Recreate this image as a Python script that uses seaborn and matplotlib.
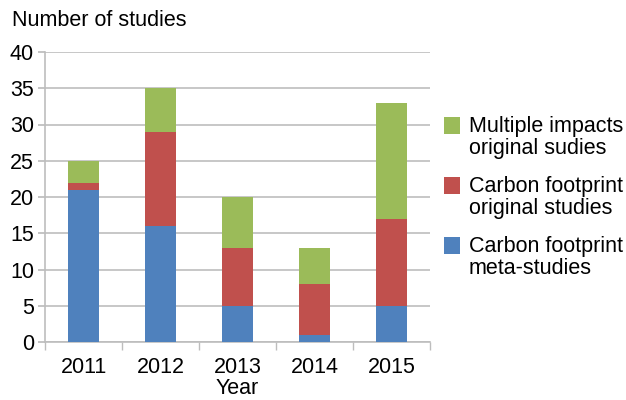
import numpy as np
import pandas as pd
import matplotlib
matplotlib.use("Agg")
import matplotlib.pyplot as plt
import seaborn as sns
from matplotlib.patches import Rectangle

years = ["2011", "2012", "2013", "2014", "2015"]
cf_meta = [21, 16, 5, 1, 5]
cf_original = [1, 13, 8, 7, 12]
multi_original = [3, 6, 7, 5, 16]

series_names = ["Multiple impacts\noriginal sudies",
                "Carbon footprint\noriginal studies",
                "Carbon footprint\nmeta-studies"]
colors = {"green": "#9BBB59", "red": "#C0504D", "blue": "#4F81BD"}

sns.set_theme(style="white")
plt.rcParams["font.family"] = ["Liberation Sans", "DejaVu Sans"]
plt.rcParams["text.color"] = "black"
plt.rcParams["axes.labelcolor"] = "black"
plt.rcParams["xtick.labelcolor"] = "black"
plt.rcParams["ytick.labelcolor"] = "black"

W, H = 626, 400
fig = plt.figure(figsize=(W / 100, H / 100), dpi=100)
ax = fig.add_axes([0.072, 0.145, 0.615, 0.725])

df = pd.DataFrame({"year": years, "meta": cf_meta,
                   "orig": cf_original, "multi": multi_original})
bottom1 = np.array(cf_meta)
bottom2 = bottom1 + np.array(cf_original)

kw = dict(width=0.4, saturation=1, ax=ax, zorder=3, linewidth=0)
sns.barplot(data=df, x="year", y="meta", color=colors["blue"], **kw)
sns.barplot(data=df, x="year", y="orig", bottom=bottom1, color=colors["red"], **kw)
sns.barplot(data=df, x="year", y="multi", bottom=bottom2, color=colors["green"], **kw)

ax.set_ylim(0, 40)
ax.set_xlim(-0.5, 4.5)
ax.set_yticks(range(0, 41, 5))
ax.yaxis.grid(True, color="#BDBDBD", linewidth=1.2, zorder=0)
ax.set_axisbelow(True)

for s in ["top", "right"]:
    ax.spines[s].set_visible(False)
for s in ["left", "bottom"]:
    ax.spines[s].set_color("#BDBDBD")
    ax.spines[s].set_linewidth(1.2)

fs = 15.5
ax.tick_params(axis="y", which="major", left=True, length=5, color="#BDBDBD",
               labelsize=fs, pad=3)
ax.tick_params(axis="x", which="major", bottom=False, labelsize=fs, pad=5)
ax.set_xticks(np.arange(-0.5, 5, 1), minor=True)
ax.tick_params(axis="x", which="minor", bottom=True, length=6, color="#BDBDBD")

ax.set_xlabel("Year", fontsize=fs, labelpad=0)
ax.set_ylabel("")
fig.text(12 / W, 1 - 20 / H, "Number of studies", fontsize=fs,
         ha="left", va="center")

# legend drawn by hand so the swatch lines up with the first text line
legend_colors = [colors["green"], colors["red"], colors["blue"]]
for i, (name, c) in enumerate(zip(series_names, legend_colors)):
    yc = 125 + 60 * i
    fig.patches.append(Rectangle((444 / W, 1 - (yc + 8.5) / H), 16 / W, 17 / H,
                                 facecolor=c, edgecolor="none",
                                 transform=fig.transFigure, figure=fig))
    fig.text(469 / W, 1 - (yc + 12.5) / H, name, fontsize=fs, ha="left",
             va="center", linespacing=1.12)

fig.savefig("out.png", dpi=100)
